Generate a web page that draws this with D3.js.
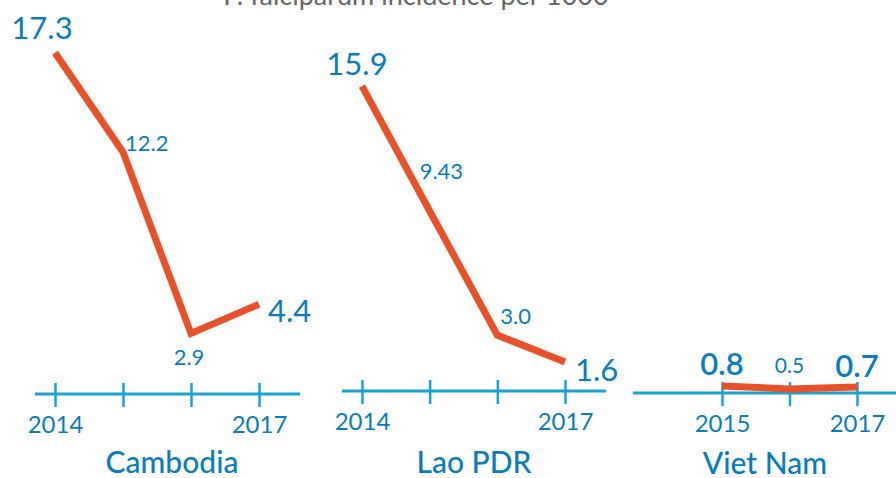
<!DOCTYPE html>
<html>
<head>
<meta charset="utf-8">
<script src="https://cdn.jsdelivr.net/npm/d3@7"></script>
<style>
	body { margin: 0; background: #fff; }
	svg { display: block; font-family: Lato, "Open Sans", sans-serif; }
</style>
</head>
<body>
<svg id="chart" width="896" height="478"></svg>
<script>
const title = 'P. falciparum incidence per 1000';
const countries = ['Cambodia', 'Lao PDR', 'Viet Nam'];

const cambodiaYears = [2014, 2015, 2016, 2017];
const cambodiaValues = [17.3, 12.2, 2.9, 4.4];
const cambodiaLabels = ['17.3', '12.2', '2.9', '4.4'];

const laoYears = [2014, 2015, 2016, 2017];
const laoValues = [15.9, 9.43, 3.0, 1.6];
const laoLabels = ['15.9', '9.43', '3.0', '1.6'];

const vietYears = [2015, 2016, 2017];
const vietValues = [0.8, 0.5, 0.7];
const vietLabels = ['0.8', '0.5', '0.7'];

const cambodiaTickLabels = ['2014', '2017'];
const laoTickLabels = ['2014', '2017'];
const vietTickLabels = ['2015', '2017'];

const blue = '#0a7cb8';
const axisBlue = '#1ba2cf';
const red = '#e8522b';

// layout of each small chart (positions only, data lives above)
const panels = [
	{name: countries[0], years: cambodiaYears, values: cambodiaValues, labels: cambodiaLabels, ticks: cambodiaTickLabels,
		x0: 55, x1: 259, lineX: [35, 300], axisY: 394, zeroY: 390, unit: 19.5, nameX: 172, nameY: 473,
		lab: [{a: 'middle', dx: -13, dy: -14, big: 1}, {a: 'start', dx: 2, dy: -1}, {a: 'middle', dx: -2, dy: 32}, {a: 'start', dx: 9, dy: 18, big: 1}]},
	{name: countries[1], years: laoYears, values: laoValues, labels: laoLabels, ticks: laoTickLabels,
		x0: 362, x1: 565, lineX: [342, 606], axisY: 391, zeroY: 393, unit: 19.3, nameX: 474, nameY: 473,
		lab: [{a: 'middle', dx: -5, dy: -11, big: 1}, {a: 'start', dx: -10, dy: -32}, {a: 'start', dx: 3, dy: -11}, {a: 'start', dx: 10, dy: 19, big: 1}]},
	{name: countries[2], years: vietYears, values: vietValues, labels: vietLabels, ticks: vietTickLabels,
		x0: 722, x1: 857, lineX: [633, 900], axisY: 393, zeroY: 394, unit: 10, nameX: 765, nameY: 474,
		lab: [{a: 'middle', dx: 0, dy: -11, big: 2}, {a: 'middle', dx: 0, dy: -16, small: 1}, {a: 'middle', dx: 0, dy: -10, big: 2}]}
];

const svg = d3.select('#chart');

svg.append('text')
	.attr('x', 416)
	.attr('y', 5)
	.attr('text-anchor', 'middle')
	.attr('font-size', 27)
	.attr('fill', '#666')
	.text(title);

panels.forEach(p => {
	let x = d3.scaleLinear()
		.domain([p.years[0], p.years[p.years.length - 1]])
		.range([p.x0, p.x1]);
	let y = d3.scaleLinear()
		.domain([0, 18])
		.range([p.zeroY, p.zeroY - 18 * p.unit]);

	let g = svg.append('g');

	// axis line and crossing ticks
	g.append('line')
		.attr('x1', p.lineX[0])
		.attr('x2', p.lineX[1])
		.attr('y1', p.axisY)
		.attr('y2', p.axisY)
		.attr('stroke', axisBlue)
		.attr('stroke-width', 3);

	let axis = g.append('g')
		.attr('transform', 'translate(0,' + p.axisY + ')')
		.call(d3.axisBottom(x)
			.tickValues(p.years)
			.tickSize(13)
			.tickFormat(d => p.ticks.includes(String(d)) ? String(d) : ''));

	axis.select('.domain').remove();
	axis.selectAll('.tick line')
		.attr('y1', -11)
		.attr('stroke', axisBlue)
		.attr('stroke-width', 2.5);
	axis.selectAll('.tick text')
		.attr('y', 39)
		.attr('dy', 0)
		.attr('font-size', 24)
		.attr('font-weight', 400)
		.attr('font-family', 'Lato, "Open Sans", sans-serif')
		.attr('fill', blue);

	let pts = p.years.map((yr, i) => ({yr: yr, v: p.values[i], label: p.labels[i], pos: p.lab[i]}));

	g.append('path')
		.datum(pts)
		.attr('fill', 'none')
		.attr('stroke', red)
		.attr('stroke-width', 7)
		.attr('stroke-linejoin', 'miter')
		.attr('d', d3.line().x(d => x(d.yr)).y(d => y(d.v)));

	g.selectAll('.val')
		.data(pts)
		.enter()
		.append('text')
		.attr('class', 'val')
		.attr('x', d => x(d.yr) + d.pos.dx)
		.attr('y', d => y(d.v) + d.pos.dy)
		.attr('text-anchor', d => d.pos.a)
		.attr('font-size', d => d.pos.big ? 31 : (d.pos.small ? 21 : 22))
		.attr('font-weight', d => d.pos.big === 2 ? 600 : 400)
		.attr('fill', blue)
		.text(d => d.label);

	g.append('text')
		.attr('x', p.nameX)
		.attr('y', p.nameY)
		.attr('text-anchor', 'middle')
		.attr('font-size', 30)
		.attr('font-weight', 500)
		.attr('fill', blue)
		.text(p.name);
});
</script>
</body>
</html>
